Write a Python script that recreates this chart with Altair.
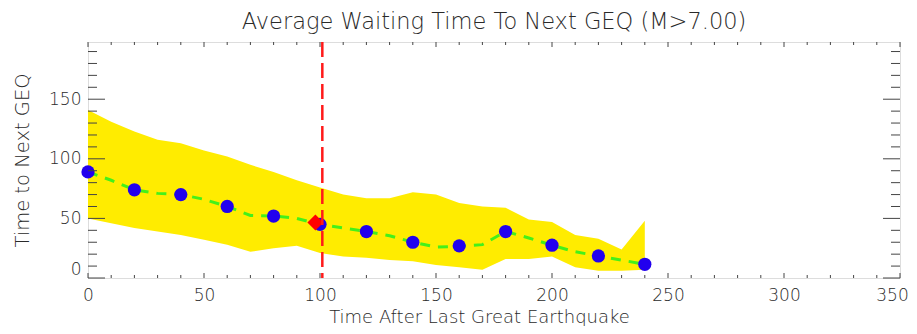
import altair as alt
import pandas as pd

# ---- data ----
band_x = [0, 10, 20, 30, 40, 50, 60, 70, 80, 90, 100, 110, 120, 130, 140, 150, 160, 170, 180, 190, 200, 210, 220, 230, 240]
band_upper = [141, 131, 123, 116, 113, 107, 102, 95, 89, 82, 76, 70, 67, 67, 72, 70, 63, 60, 59, 49, 47, 36, 33, 24, 48]
band_lower = [50, 46, 42, 39, 36, 32, 28, 22, 25, 27, 21, 18, 17, 15, 14, 11, 9, 7, 16, 16, 18, 9, 6, 6, 7]

green_x = band_x
green_y = [89, 82, 74, 71, 70, 66, 60, 52.5, 52, 50, 45, 42, 39, 35.5, 30, 26, 26.6, 28, 39, 33.6, 27.5, 22, 18.5, 15, 11.5]

dot_x = [0, 20, 40, 60, 80, 100, 120, 140, 160, 180, 200, 220, 240]
dot_y = [89, 74, 70, 60, 52, 45, 39, 30, 27, 39, 27.5, 18.5, 11.5]

diamond_x = [98]
diamond_y = [46.5]

vline_x = [101]

x_major = [0, 50, 100, 150, 200, 250, 300, 350]
x_minor = [v for v in range(10, 350, 10) if v % 50 != 0]
y_major = [0, 50, 100, 150]
y_minor = [v for v in range(10, 200, 10) if v % 50 != 0]

TITLE = "Average Waiting Time To Next GEQ (M>7.00)"
XTITLE = "Time After Last Great Earthquake"
YTITLE = "Time to Next GEQ"

W, H = 812, 236
FONT = "DejaVu Sans"
FW = 200
TXT = "#2a2a2a"
AX = "#444444"

xs = alt.Scale(domain=[0, 350], nice=False, zero=False)
ys = alt.Scale(domain=[0, 198], nice=False, zero=False)

band_df = pd.DataFrame({"t": band_x, "hi": band_upper, "lo": band_lower})
green_df = pd.DataFrame({"t": green_x, "v": green_y})
dot_df = pd.DataFrame({"t": dot_x, "v": dot_y})
dia_df = pd.DataFrame({"t": diamond_x, "v": diamond_y})
vl_df = pd.DataFrame({"t": vline_x})

x_axis = alt.Axis(values=x_major, format="d", ticks=False, tickSize=0, domain=False, grid=False,
                  labelPadding=22.5, labelBaseline="alphabetic", labelFlush=False,
                  labelOffset=alt.condition("datum.value == 350", alt.value(-8), alt.value(0)),
                  labelFontSize=17, labelColor=TXT, labelFont=FONT, labelFontWeight=FW,
                  title=XTITLE, titleFontSize=18, titleFontWeight=FW, titleColor=TXT,
                  titleFont=FONT, titleX=391, titleY=44, titleBaseline="alphabetic")
y_axis = alt.Axis(values=y_major, format="d", ticks=False, tickSize=0, domain=False, grid=False,
                  labelPadding=7, labelFlush=True, labelFontSize=17, labelColor=TXT, labelFont=FONT,
                  labelFontWeight=FW,
                  title=YTITLE, titleFontSize=19.5, titleFontWeight=FW, titleColor=TXT,
                  titleFont=FONT, titleX=-60, titleBaseline="alphabetic")


def X(field):
    return alt.X(field, scale=xs, axis=x_axis, title=XTITLE)


def Y(field):
    return alt.Y(field, scale=ys, axis=y_axis, title=YTITLE)


band = alt.Chart(band_df).mark_area(color="#ffec00", opacity=1).encode(
    x=X("t:Q"), y=Y("hi:Q"), y2="lo:Q",
)

green = alt.Chart(green_df).mark_line(color="#44f01a", strokeWidth=3, strokeDash=[10, 8]).encode(
    x=X("t:Q"), y=Y("v:Q"),
)

dots = alt.Chart(dot_df).mark_point(shape="circle", filled=True, size=175, color="#2200ee", opacity=1).encode(
    x=X("t:Q"), y=Y("v:Q"),
)

diamond = alt.Chart(dia_df).mark_point(shape="diamond", filled=True, size=256, color="#ff0000", opacity=1).encode(
    x=X("t:Q"), y=Y("v:Q"),
)

vline = alt.Chart(vl_df).mark_rule(color="#ff1a1a", strokeWidth=2.5, strokeDash=[15, 6]).encode(
    x=X("t:Q"),
)


def yticks(vals, length):
    df = pd.DataFrame({"v": vals})
    left = alt.Chart(df).mark_rule(color=AX, strokeWidth=1).encode(
        y=Y("v:Q"), x=alt.value(0), x2=alt.value(length))
    right = alt.Chart(df).mark_rule(color=AX, strokeWidth=1).encode(
        y=Y("v:Q"), x=alt.value(W), x2=alt.value(W - length))
    return [left, right]


def xticks(vals, length):
    df = pd.DataFrame({"t": vals})
    bottom = alt.Chart(df).mark_rule(color=AX, strokeWidth=1).encode(
        x=X("t:Q"), y=alt.value(H), y2=alt.value(H - length))
    top = alt.Chart(df).mark_rule(color=AX, strokeWidth=1).encode(
        x=X("t:Q"), y=alt.value(0), y2=alt.value(length))
    return [bottom, top]


tick_layers = yticks(y_major, 17) + yticks(y_minor, 9) + xticks(x_major, 5) + xticks(x_minor, 3)

chart = alt.layer(band, green, dots, diamond, vline, *tick_layers).properties(
    width=W, height=H,
    title=alt.TitleParams(TITLE, fontSize=22.5, font=FONT, fontWeight=FW, color=TXT,
                          offset=7, anchor="middle"),
    autosize=alt.AutoSizeParams(type="none"),
    padding={"left": 80, "top": 34, "right": 9, "bottom": 48},
).configure_view(stroke=AX, strokeWidth=1).configure(background="white")

chart.save("out.html", embed_options={"renderer": "svg", "actions": False})
